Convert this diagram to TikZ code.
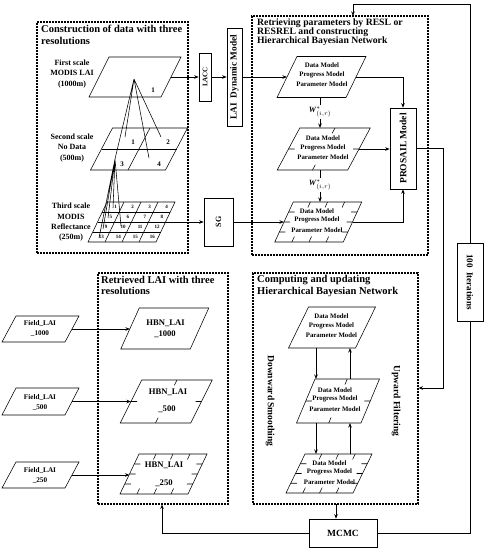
\documentclass[tikz,border=0pt]{standalone}
\usepackage{fontspec}
\setmainfont{Liberation Serif}
\usetikzlibrary{arrows.meta,calc}
\newcommand{\fs}[2]{\fontsize{#1}{#2}\selectfont\bfseries}
% parallelogram: name, cx, cy, w, h, slant
\newcommand{\paral}[6]{%
  \coordinate (#1) at (#2,#3);
  \coordinate (#1-tl) at ({#2-#4/2+#6/2},{#3-#5/2});
  \coordinate (#1-tr) at ({#2+#4/2+#6/2},{#3-#5/2});
  \coordinate (#1-br) at ({#2+#4/2-#6/2},{#3+#5/2});
  \coordinate (#1-bl) at ({#2-#4/2-#6/2},{#3+#5/2});
  \coordinate (#1-w) at ({#2-#4/2},#3);
  \coordinate (#1-e) at ({#2+#4/2},#3);
  \coordinate (#1-n) at (#2,{#3-#5/2});
  \coordinate (#1-s) at (#2,{#3+#5/2});
  \draw[para] (#1-tl) -- (#1-tr) -- (#1-br) -- (#1-bl) -- cycle;
}
\newcommand{\gridl}[2]{\foreach \f in {#2}{%
  \draw[para] ($(#1-tl)!\f!(#1-tr)$) -- ($(#1-bl)!\f!(#1-br)$);
  \draw[para] ($(#1-tl)!\f!(#1-bl)$) -- ($(#1-tr)!\f!(#1-br)$);}}
\newcommand{\stubl}[2]{\foreach \f in {#2}{%
  \path ($(#1-tl)!\f!(#1-tr)$) coordinate (sa) ($(#1-bl)!\f!(#1-br)$) coordinate (sb)
        ($(#1-tl)!\f!(#1-bl)$) coordinate (sc) ($(#1-tr)!\f!(#1-br)$) coordinate (sd);
  \draw[para] (sa) -- ($(sa)!6pt!(sb)$) (sb) -- ($(sb)!6pt!(sa)$)
              (sc) -- ($(sc)!6pt!(sd)$) (sd) -- ($(sd)!6pt!(sc)$);}}
\begin{document}
\begin{tikzpicture}[x=1pt,y=-1pt,
  dbox/.style={draw, inner sep=0pt, outer sep=0pt, line width=1.1pt, dash pattern=on 1.8pt off 1.2pt},
  para/.style={draw, line width=0.55pt},
  conn/.style={line width=0.75pt},
  arr/.style={conn, -{Stealth[length=4.5pt,width=3.5pt]}},
  rbox/.style={draw, line width=0.6pt, inner sep=0pt},
  hdr/.style={anchor=north west, align=left, inner sep=0pt},
  ptxt/.style={font=\fs{6.8}{8.5}, align=center, inner sep=0pt},
  lbl/.style={font=\fs{8}{10.3}, align=center, inner sep=0pt},
  num/.style={font=\fs{7}{8}, inner sep=0pt},
  tnum/.style={font=\fs{5}{6}, inner sep=0pt},
  ftxt/.style={font=\fs{7.2}{10}, align=center, inner sep=0pt},
  htxt/.style={font=\fs{8.6}{10}, inner sep=0pt},
  side/.style={font=\fs{9.5}{10}, inner sep=0pt, rotate=-90}]
\fill[white] (0,0) rectangle (487,550);
\useasboundingbox (0,0) rectangle (487,550);

% dashed group boxes
\node[dbox, minimum width=151pt, minimum height=231pt] (boxA) at (112.5,137.5) {};
\node[dbox, minimum width=176pt, minimum height=239pt] (boxB) at (340,135.5) {};
\node[dbox, minimum width=130pt, minimum height=231pt] (boxC) at (163,388.5) {};
\node[dbox, minimum width=165pt, minimum height=231pt] (boxD) at (335.5,388.5) {};

\node[hdr, font=\fs{10.5}{11.5}] (hA) at (41,25) {Construction of data with three\\resolutions};
\node[hdr, font=\fs{9.7}{9}] (hB) at (257,19) {Retrieving parameters by RESL or\\RESREL and constructing\\Hierarchical Bayesian Network};
\node[hdr, font=\fs{10.5}{11.5}] (hC) at (101,276) {Retrieved LAI with three\\resolutions};
\node[hdr, font=\fs{10.5}{12.5}] (hD) at (257,275) {Computing and updating\\Hierarchical Bayesian Network};

% ---- three scales
\node[lbl] (l1) at (72,74) {First scale\\MODIS LAI\\(1000m)};
\node[lbl] (l2) at (72,148) {Second scale\\No Data\\(500m)};
\node[lbl] (l3) at (71,222.5) {Third scale\\MODIS\\Reflectance\\(250m)};

\paral{p1}{135}{77}{72}{40}{20}
\node[num] (n11) at (153,90) {1};
\paral{p2}{139}{149}{75}{42}{22}
\gridl{p2}{0.5}
\node[num] (n21) at (133,142) {1};
\node[num] (n22) at (168,142) {2};
\node[num] (n23) at (122,164) {3};
\node[num] (n24) at (159,164) {4};
\paral{p3}{131.5}{222}{68}{40}{19}
\gridl{p3}{0.25,0.5,0.75}
\foreach \r in {0,...,3}{\foreach \c in {0,...,3}{%
  \pgfmathtruncatemacro\k{4*\r+\c+1}
  \node[tnum] (g\k) at ({109.5+(\c+0.5)*17-(\r+0.5)*4.75},{202+(\r+0.5)*10}) {\k};}}

\coordinate (ap1) at (134,79);
\coordinate (c1) at (125,137);
\coordinate (c2) at (161,137);
\coordinate (ap2) at (115,159);
\coordinate (c4) at (149,158);
\draw[para] (ap1) -- (c1) (ap1) -- (c2) (ap1) -- (ap2) (ap1) -- (c4);
\coordinate (d1) at (113,208);
\coordinate (d5) at (108,218);
\coordinate (d9) at (103,229);
\coordinate (d10) at (121,226);
\coordinate (d13) at (99,238);
\draw[para] (ap2) -- (d1) (ap2) -- (d5) (ap2) -- (d9) (ap2) -- (d10) (ap2) -- (d13);

% ---- boxes between
\node[rbox, minimum width=12pt, minimum height=48pt] (lacc) at (205,77) {\rotatebox{90}{\fs{7}{8}LACC}};
\node[rbox, minimum width=15pt, minimum height=98pt] (lai) at (234.5,77) {\rotatebox{90}{\fs{9.3}{10}LAI\ \ Dynamic Model}};
\node[rbox, minimum width=29pt, minimum height=48pt] (sg) at (218.5,222) {\rotatebox{90}{\fs{8}{9}SG}};

% ---- retrieving parameters
\paral{a1}{321.5}{77}{69}{41}{20}
\node[ptxt] (a1t) at (322,75) {Data Model\\Progress Model\\[2pt]Parameter Model};
\paral{a2}{323.75}{149}{70.5}{42}{22.5}
\stubl{a2}{0.5}
\node[ptxt] (a2t) at (323,148) {Data Model\\Progress Model\\[2pt]Parameter Model};
\paral{a3}{318.25}{222}{68.5}{40}{18.5}
\stubl{a3}{0.25,0.5,0.75}
\node[ptxt] (a3t) at (317,220.5) {Data Model\\Progress Model\\[2pt]Parameter Model};

\node[font=\fs{8}{9}, inner sep=1.5pt] (w1) at (320,112) {\textit{W}$^{*}_{(i,r)}$};
\node[font=\fs{8}{9}, inner sep=1.5pt] (w2) at (320,185) {\textit{W}$^{*}_{(i,r)}$};
\draw[conn] (a1-s -| w1) -- (w1.north);
\draw[arr] (w1.south) -- (a2-n -| w1);
\draw[conn] (a2-s -| w2) -- (w2.north);
\draw[arr] (w2.south) -- (a3-n -| w2);

\node[rbox, minimum width=26pt, minimum height=81pt] (pro) at (403,148.5) {\rotatebox{90}{\fs{9.5}{10}PROSAIL Model}};
\node[rbox, minimum width=26pt, minimum height=78pt] (iter) at (470,282) {\rotatebox{-90}{\fs{9}{10}100\ \ Iterations}};
\node[rbox, minimum width=68pt, minimum height=28pt] (mcmc) at (343,533) {\fs{9.5}{10}MCMC};

\draw[arr] (p1-e) -- (lacc.west);
\draw[arr] (lacc.east) -- (lai.west);
\draw[arr] (lai.east) -- (a1-w);
\draw[arr] (p3-e) -- (sg.west);
\draw[arr] (sg.east) -- (a3-w);
\draw[arr] (a1-e) -| (pro.north);
\draw[arr] (a2-e) -- (a2-e -| pro.west);
\draw[arr] (a3-e) -| (pro.south);

% ---- retrieved LAI
\paral{f1}{40.5}{329}{63}{26}{14}
\node[ftxt] (f1t) at (40,328) {Field\_LAI\\\_1000};
\paral{f2}{40.5}{401.5}{63}{27}{14}
\node[ftxt] (f2t) at (40,402) {Field\_LAI\\\_500};
\paral{f3}{40.5}{475}{63}{26}{14}
\node[ftxt] (f3t) at (40,475.5) {Field\_LAI\\\_250};

\paral{h1}{164.75}{328.5}{69.5}{41}{18.5}
\node[htxt] (h1a) at (165.5,323) {HBN\_LAI};
\node[htxt] (h1b) at (165,334) {\_1000};
\paral{h2}{166.25}{401.5}{70.5}{43}{21.5}
\stubl{h2}{0.5}
\node[htxt] (h2a) at (168,392) {HBN\_LAI};
\node[htxt] (h2b) at (167,409) {\_500};
\paral{h3}{163.5}{474}{68}{40}{19}
\stubl{h3}{0.25,0.5,0.75}
\node[htxt] (h3a) at (164,465) {HBN\_LAI};
\node[htxt] (h3b) at (164,483) {\_250};

\draw[arr] (f1-e) -- (f1-e -| h1-w);
\draw[arr] (f2-e) -- (f2-e -| h2-w);
\draw[arr] (f3-e) -- (f3-e -| h3-w);

% ---- computing and updating
\paral{b1}{332}{327.5}{67}{41}{20}
\node[ptxt] (b1t) at (331.5,326) {Data Model\\Progress Model\\[2pt]Parameter Model};
\paral{b2}{338}{401}{64.5}{44}{18.5}
\stubl{b2}{0.5}
\node[ptxt] (b2t) at (335,399.5) {Data Model\\Progress Model\\[2pt]Parameter Model};
\paral{b3}{329}{473.5}{67}{39}{19}
\stubl{b3}{0.25,0.5,0.75}
\node[ptxt] (b3t) at (329.5,472.5) {Data Model\\Progress Model\\[2pt]Parameter Model};

\coordinate (dnx) at (316,0);
\coordinate (upx) at (350,0);
\draw[arr] (b1-s -| dnx) -- (b2-n -| dnx);
\draw[arr] (b2-n -| upx) -- (b1-s -| upx);
\draw[arr] (b2-s -| dnx) -- (b3-n -| dnx);
\draw[arr] (b3-n -| upx) -- (b2-s -| upx);

\node[side] (down) at (270,401) {Downward Smoothing};
\node[side] (up) at (396,401) {Upward Filtering};

% ---- loop connectors
\coordinate (k1) at (443,388);
\coordinate (din) at (418.5,388);
\draw[arr] (pro.east) -| (k1) -- (din);
\coordinate (ktop) at (353,4);
\coordinate (bin) at (353,16);
\draw[arr] (iter.north) |- (ktop) -- (bin);
\draw[conn] (iter.south) |- (mcmc.east);
\coordinate (dout) at (336,504);
\draw[arr] (dout) -- (dout |- mcmc.north);
\coordinate (cin) at (162,504.5);
\draw[arr] (mcmc.west) -| (cin);
\end{tikzpicture}
\end{document}
